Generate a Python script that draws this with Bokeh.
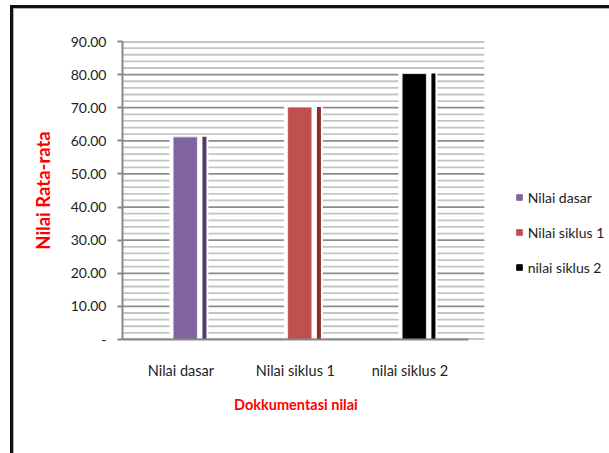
import numpy as np
from bokeh.plotting import figure
from bokeh.models import Range1d, FixedTicker, Legend, LegendItem, Title
from bokeh.embed import file_html
from bokeh.resources import INLINE

# ---- data ----
categories = ["Nilai dasar", "Nilai siklus 1", "nilai siklus 2"]
values = [61.2, 70.2, 80.3]
front_colors = ["#8064A2", "#C0504D", "#000000"]
side_colors = ["#4E3D6E", "#8A2E2C", "#000000"]
y_ticks = [0, 10, 20, 30, 40, 50, 60, 70, 80, 90]
y_tick_labels = ["-", "10.00", "20.00", "30.00", "40.00", "50.00", "60.00", "70.00", "80.00", "90.00"]
y_minor_ticks = [t for t in range(0, 91, 2) if t % 10 != 0]
x_title = "Dokkumentasi nilai"
y_title = "Nilai Rata-rata"

FONT = "Lato"
TXT = "#222222"

n = len(categories)
x_lo, x_hi = -0.01, n + 0.15          # extent of the plotting area (gridlines)
x_view_end = x_lo + 487 / 114.5        # frame also holds the legend on the right

# chart-area border (top + left edge, like the Excel chart frame), drawn as inset shadows
frame_css = ("inset 10px 5px 0 0 #ffffff, inset 13px 8px 0 0 #111111, "
             "inset 14px 9px 0 0 #b0b0b0")

p = figure(width=609, height=453, output_backend="svg", toolbar_location=None,
           x_range=Range1d(x_lo, x_view_end), y_range=Range1d(0, 90),
           min_border_left=122, min_border_right=0, min_border_top=41, min_border_bottom=114,
           styles={"box-shadow": frame_css, "background-color": "#ffffff"})
p.outline_line_color = None
p.background_fill_color = "white"
p.border_fill_alpha = 0
p.xgrid.visible = False
p.ygrid.visible = False

# horizontal gridlines limited to the plotting area
p.segment(x0=x_lo, x1=x_hi, y0=y_minor_ticks, y1=y_minor_ticks,
          line_color="#c4c4c4", line_width=1.8)
p.segment(x0=x_lo, x1=x_hi, y0=y_ticks, y1=y_ticks,
          line_color="#8c8c8c", line_width=1.8)

x = np.arange(n) + 0.5
vals = np.array(values)

# white backing (interrupts gridlines like the 3D Excel bars)
p.quad(left=x - 0.10, right=x + 0.24, bottom=0.4, top=vals + 0.5,
       fill_color="white", line_color=None)
# front faces
p.quad(left=x - 0.068, right=x + 0.144, bottom=0, top=vals,
       fill_color=front_colors, line_color="#f2f2f2", line_width=0.8)
# side faces
p.quad(left=x + 0.188, right=x + 0.223, bottom=0, top=vals,
       fill_color=side_colors, line_color=None)

# axes
p.yaxis.ticker = FixedTicker(ticks=y_ticks)
p.yaxis.major_label_overrides = {t: l for t, l in zip(y_ticks, y_tick_labels)}
p.yaxis.axis_line_color = "#888888"
p.yaxis.axis_line_width = 2
p.yaxis.major_tick_line_color = "#888888"
p.yaxis.major_tick_line_width = 2
p.yaxis.major_tick_out = 5
p.yaxis.major_tick_in = 0
p.yaxis.minor_tick_line_color = None
p.yaxis.major_label_standoff = 11
p.yaxis.major_label_text_font = FONT
p.yaxis.major_label_text_font_size = "14px"
p.yaxis.major_label_text_color = TXT
p.yaxis.axis_label = y_title
p.yaxis.axis_label_text_font = FONT
p.yaxis.axis_label_text_font_style = "bold"
p.yaxis.axis_label_text_font_size = "18.5px"
p.yaxis.axis_label_text_color = "#FF0000"
p.yaxis.axis_label_standoff = 14

p.xaxis.ticker = FixedTicker(ticks=list(x))
p.xaxis.bounds = (x_lo, n + 0.01)
p.xaxis.major_label_overrides = {float(t): c for t, c in zip(x, categories)}
p.xaxis.axis_line_color = "#888888"
p.xaxis.axis_line_width = 2
p.xaxis.major_tick_line_color = None
p.xaxis.major_tick_out = 0
p.xaxis.major_tick_in = 0
p.xaxis.minor_tick_line_color = None
p.xaxis.major_label_standoff = 22
p.xaxis.major_label_text_font = FONT
p.xaxis.major_label_text_font_size = "14.5px"
p.xaxis.major_label_text_color = TXT

# x-axis title, centred under the middle category (as in the reference)
p.add_layout(Title(text=x_title, align="left", offset=111.5, standoff=24,
                   text_font=FONT, text_font_size="14.5px", text_font_style="bold",
                   text_color="#FF0000"), "below")

# legend (marker renderers share the bar data but are not drawn themselves)
items = []
for i, (cat, col) in enumerate(zip(categories, front_colors)):
    r = p.scatter(x=[x[i]], y=[values[i]], marker="square", size=6,
                  fill_color=col, line_color=col, visible=False)
    items.append(LegendItem(label=cat, renderers=[r]))
legend = Legend(items=items, location=(389.7, 62), orientation="vertical",
                glyph_width=14, glyph_height=20, label_height=20, spacing=15,
                padding=0, margin=0, border_line_color=None, background_fill_alpha=0,
                inactive_fill_alpha=0, click_policy="none",
                label_standoff=2, label_text_font=FONT,
                label_text_font_size="14px", label_text_color=TXT)
p.add_layout(legend, "center")

open("out.html", "w").write(file_html(p, INLINE))
